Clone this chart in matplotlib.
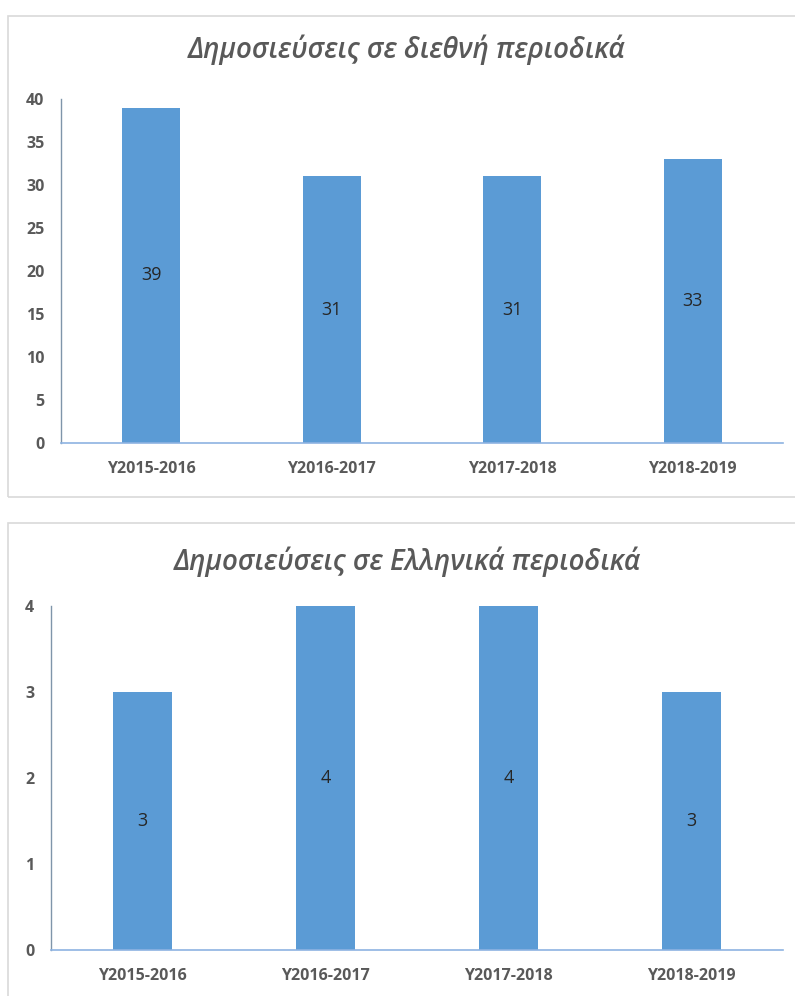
import matplotlib
matplotlib.use("Agg")
import matplotlib.pyplot as plt
from matplotlib.patches import Rectangle

categories = ["Y2015-2016", "Y2016-2017", "Y2017-2018", "Y2018-2019"]
intl_values = [39, 31, 31, 33]
greek_values = [3, 4, 4, 3]
intl_title = "Δημοσιεύσεις σε διεθνή περιοδικά"
greek_title = "Δημοσιεύσεις σε Ελληνικά περιοδικά"
intl_ticks = [0, 5, 10, 15, 20, 25, 30, 35, 40]
greek_ticks = [0, 1, 2, 3, 4]

W, H = 795, 996
fig = plt.figure(figsize=(W / 100, H / 100), dpi=100)
fig.patch.set_facecolor("white")

FONT = ["Open Sans", "DejaVu Sans"]
BAR = "#5B9BD5"
TXT = "#595959"


def fx(px):
    return px / W


def fy(py):
    return 1 - py / H


# panel borders
for (x0, y0, x1, y1) in [(8, 16, 800, 497), (8, 523, 800, 1005)]:
    fig.patches.append(Rectangle((fx(x0), fy(y1)), fx(x1 - x0), (y1 - y0) / H,
                                 transform=fig.transFigure, fill=False,
                                 edgecolor="#D9D9D9", linewidth=1.2))


def panel(left, right, top, bottom, values, ticks, title, title_y):
    ax = fig.add_axes([fx(left), fy(bottom), fx(right - left), (bottom - top) / H])
    x = range(len(categories))
    bars = ax.bar(x, values, width=0.32, color=BAR, zorder=2)
    ax.set_xlim(-0.5, len(categories) - 0.5)
    ax.set_ylim(0, ticks[-1])
    ax.set_yticks(ticks)
    ax.set_xticks(list(x))
    ax.set_xticklabels(categories)
    for lab in ax.get_xticklabels() + ax.get_yticklabels():
        lab.set_family(FONT)
        lab.set_fontweight("bold")
        lab.set_color(TXT)
        lab.set_fontsize(11.5)
    ax.tick_params(axis="both", length=0)
    ax.tick_params(axis="x", pad=13)
    ax.tick_params(axis="y", pad=12)
    for s in ["top", "right"]:
        ax.spines[s].set_visible(False)
    ax.spines["bottom"].set_color("#8DB3E2")
    ax.spines["bottom"].set_linewidth(1.2)
    ax.spines["left"].set_color("#7F95AA")
    ax.spines["left"].set_linewidth(1.0)
    for b, v in zip(bars, values):
        ax.text(b.get_x() + b.get_width() / 2, v / 2, str(v), ha="center",
                va="center", fontsize=13, color="#262626", family=FONT)
    fig.text(fx(407), fy(title_y), title, ha="center",
             va="center", fontsize=20, style="italic", fontweight="semibold",
             color=TXT, family=FONT)
    return ax


panel(61, 783, 99, 443, intl_values, intl_ticks, intl_title, 50)
panel(51, 783, 606, 950, greek_values, greek_ticks, greek_title, 562)

fig.savefig("out.png", dpi=100, facecolor="white")
